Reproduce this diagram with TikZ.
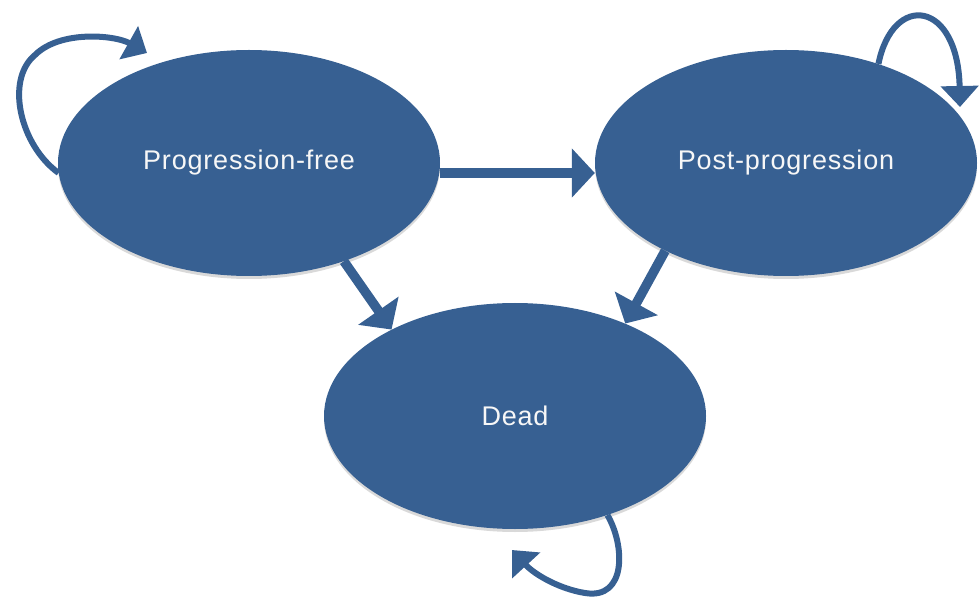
\documentclass[tikz,border=0pt]{standalone}
\usepackage{fontspec}
\setmainfont{Liberation Sans}[LetterSpace=3]
\usetikzlibrary{shapes.geometric,arrows.meta,shadows}
\definecolor{stateblue}{RGB}{55,96,146}
\begin{document}
\begin{tikzpicture}[x=1pt,y=-1pt,
 state/.style={ellipse, fill=stateblue, minimum width=382pt, minimum height=226pt, inner sep=0pt,
   text=white!94!gray, font=\fontsize{27}{30}\selectfont,
   drop shadow={shadow xshift=0pt, shadow yshift=-3pt, opacity=0.15, fill=black}},
 flow/.style={draw=stateblue, line width=9.5pt, -{Triangle[length=23pt,width=48pt]}},
 selfloop/.style={draw=stateblue, line width=6pt, -{Triangle[length=21pt,width=37pt]}}]
\useasboundingbox (0,0) rectangle (979,601);
\node[state] (pf) at (249,163) {Progression-free};
\node[state] (pp) at (786,163) {Post-progression};
\node[state] (dead) at (515,416) {Dead};
\draw[flow] ([yshift=-10pt]pf.east) -- ([yshift=-10pt]pp.west);
\draw[flow] (pf.-46) -- (dead.145);
\draw[flow] (pp.-144) -- (dead.40);
\coordinate (pfend) at (147,53);
\coordinate (ppend) at (960,107);
\coordinate (deadend) at (512,550);
\draw[selfloop] (pf.183) .. controls (20,145) and (5,80) .. (35,55) .. controls (60,30) and (115,35) .. (pfend);
\draw[selfloop] (pp.47) .. controls (893,-8) and (958,0) .. (ppend);
\draw[selfloop] (dead.-47) .. controls (625,545) and (627,600) .. (585,593) .. controls (560,589) and (535,575) .. (deadend);
\end{tikzpicture}
\end{document}
